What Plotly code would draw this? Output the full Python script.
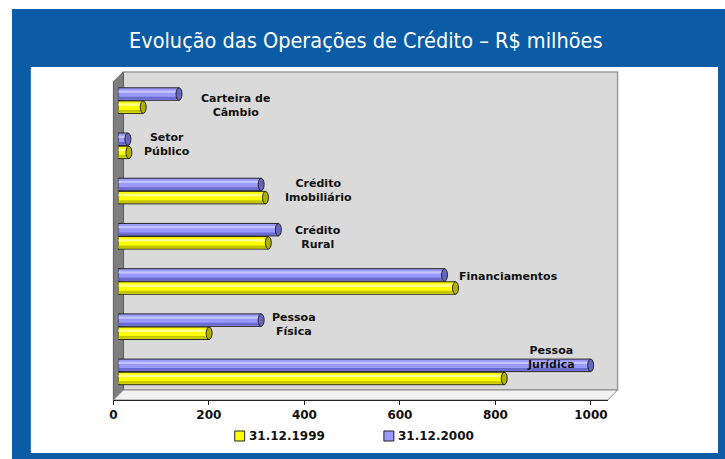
import plotly.graph_objects as go

# Credit operations by segment, R$ million
categories = ["Carteira de Câmbio", "Setor Público", "Crédito Imobiliário",
              "Crédito Rural", "Financiamentos", "Pessoa Física", "Pessoa Jurídica"]
label_text = ["Carteira de<br>Câmbio", "Setor<br>Público", "Crédito<br>Imobiliário",
              "Crédito<br>Rural", "Financiamentos", "Pessoa<br>Física", "Pessoa<br>Jurídica"]
series_names = ["31.12.1999", "31.12.2000"]
values_1999 = [52, 22, 308, 314, 706, 190, 808]
values_2000 = [127, 20, 299, 335, 683, 299, 989]
tick_values = [0, 200, 400, 600, 800, 1000]

W, H = 725, 459


def fx(px):
    return px / W


def fy(py):
    return 1 - py / H


n = len(categories)
pos = [n - 1 - i for i in range(n)]  # first category at the top

styles = {
    "31.12.1999": dict(body="#ffff00", light="#ffff9a", dark="#c4c400", cap="#b0b000", off=-0.145),
    "31.12.2000": dict(body="#9999ff", light="#c4c4ff", dark="#6a6ad0", cap="#6666c0", off=0.145),
}
series_values = {"31.12.1999": values_1999, "31.12.2000": values_2000}

bar_w = 0.276
cap_half = 6.2  # half width of cylinder end, in axis units

fig = go.Figure()
shapes = []

# page frame
shapes.append(dict(type="rect", xref="paper", yref="paper", x0=fx(8), x1=fx(725), y0=fy(459), y1=fy(9),
                   fillcolor="#0a5ca6", line=dict(width=0), layer="below"))
shapes.append(dict(type="rect", xref="paper", yref="paper", x0=fx(27), x1=fx(718), y0=fy(453), y1=fy(67),
                   fillcolor="#ffffff", line=dict(width=0), layer="below"))

# 3D walls: back wall, left side wall, floor
shapes.append(dict(type="rect", xref="paper", yref="paper", x0=fx(120), x1=fx(617), y0=fy(390), y1=fy(72),
                   fillcolor="#dadada", line=dict(color="#9a9a9a", width=1.5), layer="below"))
shapes.append(dict(type="path", xref="paper", yref="paper",
                   path=f"M {fx(110)},{fy(82)} L {fx(120)},{fy(72)} L {fx(120)},{fy(390)} L {fx(110)},{fy(400)} Z",
                   fillcolor="#7f7f7f", line=dict(color="#5a5a5a", width=1), layer="below"))
shapes.append(dict(type="path", xref="paper", yref="paper",
                   path=f"M {fx(110)},{fy(400)} L {fx(120)},{fy(390)} L {fx(617)},{fy(390)} L {fx(607)},{fy(400)} Z",
                   fillcolor="#f2f2f2", line=dict(color="#8a8a8a", width=1), layer="below"))

for name in series_names:
    st = styles[name]
    vals = series_values[name]
    ys = [p + st["off"] for p in pos]
    # cylinder body
    fig.add_trace(go.Bar(x=vals, y=ys, orientation="h", width=bar_w, name=name,
                         marker=dict(color=st["body"], line=dict(color="#262626", width=1)),
                         showlegend=False, hoverinfo="x+name"))
    # highlight and shade strips
    fig.add_trace(go.Bar(x=vals, y=[y + 0.055 for y in ys], orientation="h", width=0.05,
                         marker=dict(color=st["light"], line=dict(width=0)),
                         showlegend=False, hoverinfo="skip"))
    fig.add_trace(go.Bar(x=vals, y=[y - 0.09 for y in ys], orientation="h", width=0.06,
                         marker=dict(color=st["dark"], line=dict(width=0)),
                         showlegend=False, hoverinfo="skip"))
    for v, y in zip(vals, ys):
        # rounded start of the cylinder
        shapes.append(dict(type="circle", xref="x", yref="y", x0=-cap_half, x1=cap_half,
                           y0=y - bar_w / 2, y1=y + bar_w / 2, fillcolor=st["body"],
                           line=dict(color="#262626", width=1), layer="below"))
        # end face of the cylinder
        shapes.append(dict(type="circle", xref="x", yref="y", x0=v - cap_half, x1=v + cap_half,
                           y0=y - bar_w / 2, y1=y + bar_w / 2, fillcolor=st["cap"],
                           line=dict(color="#262626", width=1), layer="above"))

# front axis carrying the tick labels
fig.add_trace(go.Scatter(x=[], y=[], xaxis="x2", yaxis="y2", showlegend=False))

# category labels beside the bars (axis units of the bar subplot)
label_x = [246, 102, 419, 419, 818, 367, 906]
label_y = [5.90, 5.02, 4.02, 2.98, 2.12, 1.04, 0.31]
annotations = []
for t, lx, ly in zip(label_text, label_x, label_y):
    annotations.append(dict(x=lx, y=ly, xref="x", yref="y", text=f"<b>{t}</b>", showarrow=False,
                            xanchor="center", yanchor="middle", align="center",
                            font=dict(family="DejaVu Sans", size=11, color="#111111")))

# title
annotations.append(dict(x=fx(364), y=fy(40), xref="paper", yref="paper",
                        text="Evolução das Operações de Crédito – R$ milhões", showarrow=False,
                        xanchor="center", yanchor="middle",
                        font=dict(family="DejaVu Sans Condensed, DejaVu Sans, sans-serif",
                                  size=21.5, color="#ffffff")))

# legend
legend_left = [232, 382]
for name, lx in zip(series_names, legend_left):
    shapes.append(dict(type="rect", xref="paper", yref="paper", x0=fx(lx), x1=fx(lx + 10),
                       y0=fy(441), y1=fy(431), fillcolor=styles[name]["body"],
                       line=dict(color="#222222", width=1)))
    annotations.append(dict(x=fx(lx + 12), y=fy(436), xref="paper", yref="paper", text=f"<b>{name}</b>",
                            showarrow=False, xanchor="left", yanchor="middle",
                            font=dict(family="DejaVu Sans", size=12, color="#111111")))

fig.update_layout(
    width=W, height=H,
    margin=dict(l=0, r=0, t=0, b=0),
    paper_bgcolor="#ffffff",
    plot_bgcolor="rgba(0,0,0,0)",
    barmode="overlay",
    showlegend=False,
    shapes=shapes,
    annotations=annotations,
    xaxis=dict(domain=[fx(115), fx(612)], range=[0, 1035], visible=False, fixedrange=True),
    yaxis=dict(domain=[fy(394.5), fy(78)], range=[-0.5, n - 0.5], visible=False, fixedrange=True),
    xaxis2=dict(domain=[fx(110), fx(607)], range=[0, 1035], anchor="y2",
                tickvals=tick_values, ticktext=[f"<b>{t}</b>" for t in tick_values],
                ticks="outside", ticklen=4, tickcolor="#222222", showline=True, linecolor="#222222",
                linewidth=1, showgrid=False, zeroline=False,
                tickfont=dict(family="DejaVu Sans", size=12, color="#111111"), fixedrange=True),
    yaxis2=dict(domain=[fy(400), fy(390)], range=[0, 1], anchor="x2", visible=False, fixedrange=True),
)

fig.write_html("out.html")
